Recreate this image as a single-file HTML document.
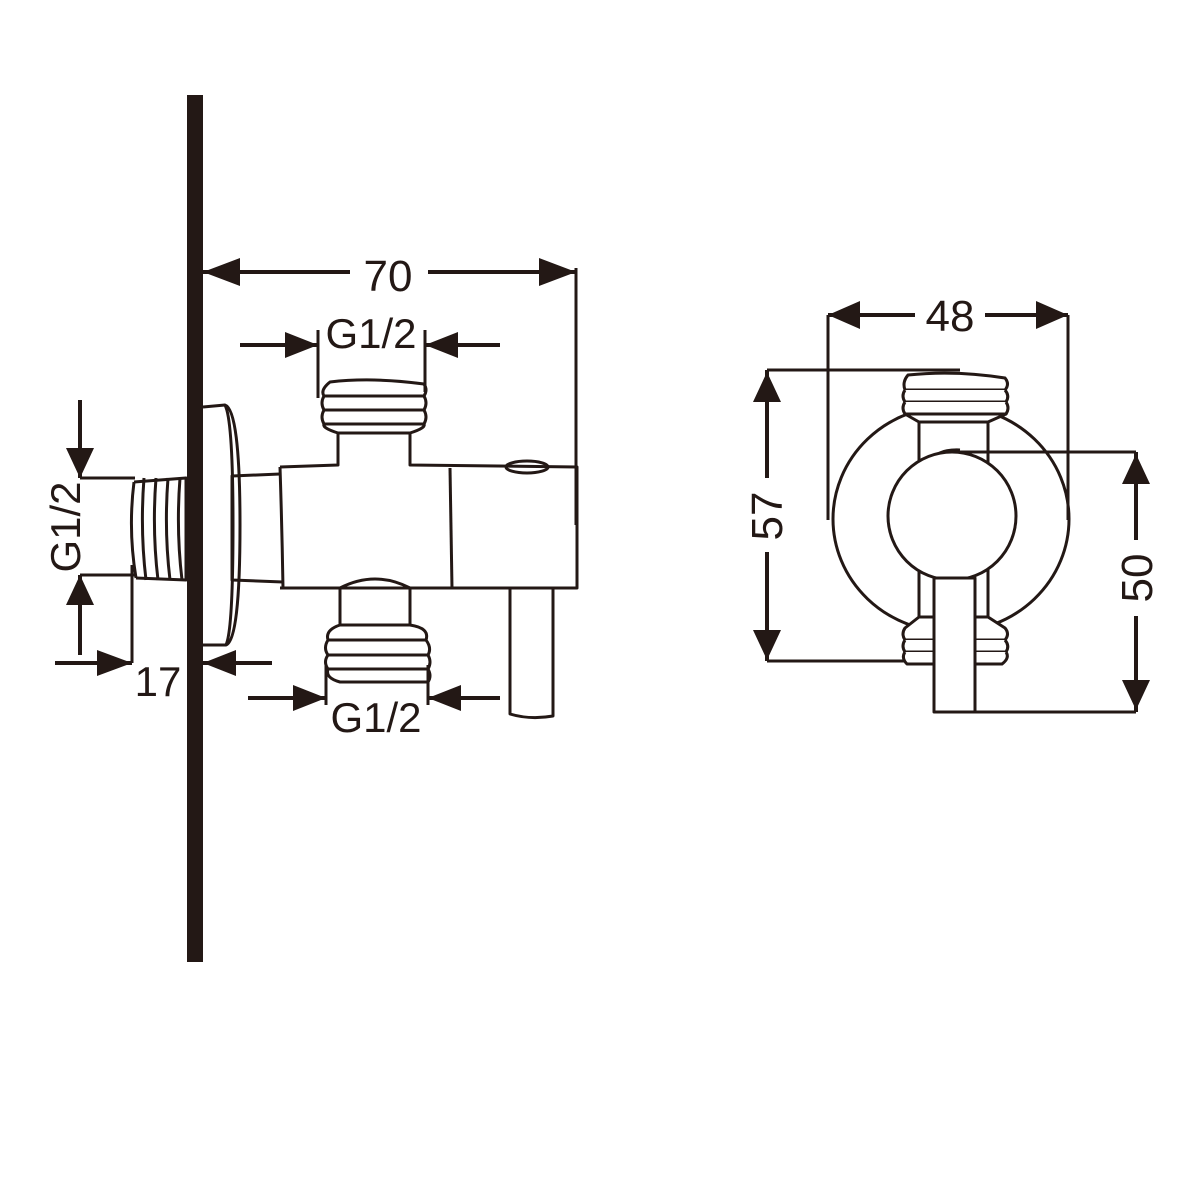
<!DOCTYPE html>
<html><head><meta charset="utf-8"><style>html,body{margin:0;padding:0;background:#fff}svg{display:block}</style></head>
<body>
<svg width="1200" height="1200" viewBox="0 0 1200 1200" xmlns="http://www.w3.org/2000/svg" font-family="Liberation Sans, sans-serif">
<rect width="1200" height="1200" fill="#fff"/>
<g stroke="#231815" fill="none" stroke-width="3" stroke-linejoin="round">
<!-- wall -->
<rect x="187" y="95" width="16" height="867" fill="#231815" stroke="none"/>
<!-- 70 dim -->
<line x1="203" y1="272" x2="350" y2="272" stroke-width="4"/>
<line x1="428" y1="272" x2="576" y2="272" stroke-width="4"/>
<path d="M203,272 L240,258 L240,286z M576,272 L539,258 L539,286z" fill="#231815" stroke="none"/>
<line x1="576" y1="268" x2="576" y2="525"/>
<!-- top G1/2 -->
<line x1="240" y1="345" x2="318" y2="345" stroke-width="4"/>
<line x1="425" y1="345" x2="500" y2="345" stroke-width="4"/>
<path d="M318,345 L285,332 L285,358z M425,345 L458,332 L458,358z" fill="#231815" stroke="none"/>
<line x1="318" y1="330" x2="318" y2="398"/>
<line x1="425" y1="330" x2="425" y2="392"/>
<!-- top fitting threads -->
<path d="M330,382 Q372,377 424,384 Q428,390 424,396 L324,396 Q320,390 330,382z"/>
<path d="M324,396 Q320,403 324,410 L424,410 Q428,403 424,396"/>
<path d="M324,410 Q320,417 324,424 L424,424 Q428,417 424,410"/>
<path d="M324,424 Q322,428 338,433 L410,433 Q426,428 424,424"/>
<path d="M338,433 L338,465 L280,467 M410,433 L410,465 L577,467 L577,588 L280,588"/>
<path d="M280,467 Q282,528 283,588"/>
<line x1="450" y1="468" x2="452" y2="588"/>
<ellipse cx="527" cy="467" rx="21" ry="6"/>
<!-- left pipe -->
<path d="M280,474 L232,476 L232,580 L283,582"/>
<!-- flange -->
<path d="M203,407 L225,405 Q240,410 240,525 Q240,640 226,645 L203,645"/>
<path d="M225,405 Q233,420 233,525 Q233,630 226,645"/>
<!-- left threads -->
<path d="M134,482 L186,478 L186,580 L136,578"/>
<path d="M134,482 Q128,530 136,578"/>
<path d="M144,478 Q140,530 146,580 M156,478 Q152,530 158,580 M168,478 Q164,530 170,580 M180,478 Q176,530 182,580"/>
<!-- left G1/2 -->
<line x1="80" y1="400" x2="80" y2="478" stroke-width="4"/>
<line x1="80" y1="478" x2="135" y2="478"/>
<path d="M80,478 L66,448 L94,448z" fill="#231815" stroke="none"/>
<line x1="80" y1="575" x2="136" y2="575"/>
<line x1="80" y1="575" x2="80" y2="655" stroke-width="4"/>
<path d="M80,575 L66,605 L94,605z" fill="#231815" stroke="none"/>
<!-- 17 -->
<line x1="55" y1="663" x2="132" y2="663" stroke-width="4"/>
<line x1="132" y1="565" x2="132" y2="663"/>
<path d="M132,663 L97,650 L97,676z" fill="#231815" stroke="none"/>
<line x1="203" y1="663" x2="272" y2="663" stroke-width="4"/>
<path d="M203,663 L236,650 L236,676z" fill="#231815" stroke="none"/>
<!-- bottom fitting -->
<path d="M340,588 L340,625 M410,588 L410,625"/>
<path d="M340,588 Q375,570 410,588"/>
<path d="M340,625 L410,625 Q430,628 426,640 L328,640 Q325,630 340,625z"/>
<path d="M328,640 Q323,648 328,655 L428,655 Q432,648 426,640"/>
<path d="M328,655 Q323,662 328,669 L428,669 Q432,662 428,655"/>
<path d="M328,669 Q325,678 340,682 L428,682 Q432,676 428,669"/>
<line x1="326" y1="665" x2="326" y2="705"/>
<line x1="428" y1="665" x2="428" y2="705"/>
<!-- bottom G1/2 -->
<line x1="248" y1="698" x2="326" y2="698" stroke-width="4"/>
<line x1="428" y1="698" x2="500" y2="698" stroke-width="4"/>
<path d="M326,698 L293,685 L293,711z M428,698 L461,685 L461,711z" fill="#231815" stroke="none"/>
<!-- lever -->
<path d="M510,588 L510,714 Q530,720 553,716 L553,588"/>

<!-- right view -->
<line x1="828" y1="315" x2="915" y2="315" stroke-width="4"/>
<line x1="985" y1="315" x2="1068" y2="315" stroke-width="4"/>
<path d="M828,315 L860,301 L860,329z M1068,315 L1036,301 L1036,329z" fill="#231815" stroke="none"/>
<!-- body circle -->
<ellipse cx="951" cy="519" rx="118" ry="113"/>
<line x1="828" y1="315" x2="828" y2="520"/>
<line x1="1068" y1="315" x2="1068" y2="520"/>
<!-- 57 -->
<line x1="767" y1="370" x2="960" y2="370"/>
<line x1="767" y1="661" x2="905" y2="661"/>
<line x1="767" y1="370" x2="767" y2="478" stroke-width="4"/>
<line x1="767" y1="552" x2="767" y2="661" stroke-width="4"/>
<path d="M767,372 L753,402 L781,402z M767,660 L753,630 L781,630z" fill="#231815" stroke="none"/>
<!-- 50 -->
<line x1="1136" y1="452" x2="1136" y2="540" stroke-width="4"/>
<line x1="1136" y1="616" x2="1136" y2="712" stroke-width="4"/>
<path d="M1136,454 L1122,484 L1150,484z M1136,710 L1122,680 L1150,680z" fill="#231815" stroke="none"/>
<!-- stem -->
<rect x="919" y="418" width="69" height="202" fill="#fff"/>
<!-- top threads -->
<path d="M905,414 L919,422 L988,422 L1006,414 Z" fill="#fff"/>
<path d="M908,375 Q955,370 1005,378 Q1010,384 1005,390 L905,390 Q902,382 908,375z" fill="#fff"/>
<path d="M905,390 Q901,396 905,402 L1006,402 Q1010,396 1005,390" fill="#fff"/>
<path d="M905,402 Q901,408 905,414 L1006,414 Q1010,408 1006,402" fill="#fff"/>
<!-- bottom threads -->
<path d="M919,617 L905,628 Q901,634 905,640 L1005,640 Q1010,634 1005,628 L988,617 Z" fill="#fff"/>
<path d="M905,640 Q901,646 905,652 L1006,652 Q1010,646 1005,640" fill="#fff"/>
<path d="M905,652 Q901,658 907,664 L1002,664 Q1010,658 1006,652" fill="#fff"/>
<!-- knob -->
<path d="M932,462 Q936,449 960,450" />
<line x1="960" y1="452" x2="1136" y2="452"/>
<circle cx="952" cy="516" r="64" fill="#fff"/>
<!-- lever -->
<rect x="934" y="578" width="41" height="134" fill="#fff"/>
<line x1="975" y1="712" x2="1136" y2="712"/>
</g>
<g fill="#231815" font-size="44">
<text x="388" y="291" text-anchor="middle">70</text>
<text x="371" y="348" text-anchor="middle" font-size="42">G1/2</text>
<text x="376" y="732" text-anchor="middle" font-size="42">G1/2</text>
<text x="158" y="696" text-anchor="middle" font-size="42">17</text>
<text transform="translate(80,527) rotate(-90)" text-anchor="middle" font-size="42">G1/2</text>
<text x="950" y="331" text-anchor="middle">48</text>
<text transform="translate(782,516) rotate(-90)" text-anchor="middle">57</text>
<text transform="translate(1152,578) rotate(-90)" text-anchor="middle">50</text>
</g>
</svg>
</body></html>
